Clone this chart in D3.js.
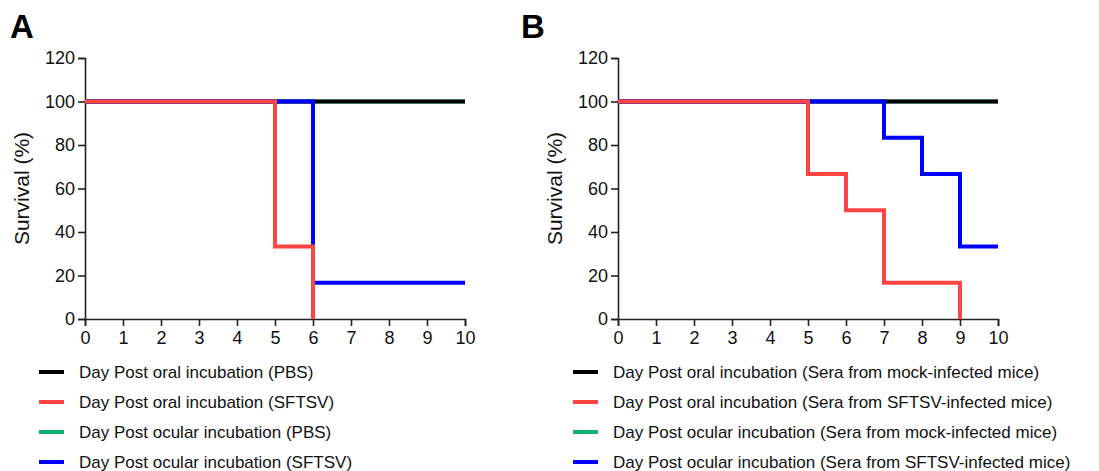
<!DOCTYPE html>
<html>
<head>
<meta charset="utf-8">
<script src="https://cdn.jsdelivr.net/npm/d3@7"></script>
<style>
  body { margin: 0; background: #fff; }
  svg { font-family: "Liberation Sans", Arial, sans-serif; }
</style>
</head>
<body>
<div id="chart"></div>
<script>
const width = 1099;
const height = 471;

// Panel A: days at which survival changes, and survival (%) from that day on
const daysA_oralPBS = [0, 10];
const survA_oralPBS = [100, 100];
const daysA_oralSFTSV = [0, 5, 6];
const survA_oralSFTSV = [100, 33.3, 0];
const daysA_ocularPBS = [0, 10];
const survA_ocularPBS = [100, 100];
const daysA_ocularSFTSV = [0, 6, 10];
const survA_ocularSFTSV = [100, 16.7, 16.7];

// Panel B
const daysB_oralMock = [0, 10];
const survB_oralMock = [100, 100];
const daysB_oralSFTSV = [0, 5, 6, 7, 9];
const survB_oralSFTSV = [100, 66.7, 50, 16.7, 0];
const daysB_ocularMock = [0, 10];
const survB_ocularMock = [100, 100];
const daysB_ocularSFTSV = [0, 7, 8, 9, 10];
const survB_ocularSFTSV = [100, 83.3, 66.7, 33.3, 33.3];

const xTicks = [0, 1, 2, 3, 4, 5, 6, 7, 8, 9, 10];
const yTicks = [0, 20, 40, 60, 80, 100, 120];

const legendA = [
  "Day Post oral incubation (PBS)",
  "Day Post oral incubation (SFTSV)",
  "Day Post ocular incubation (PBS)",
  "Day Post ocular incubation (SFTSV)"
];
const legendB = [
  "Day Post oral incubation (Sera from mock-infected mice)",
  "Day Post oral incubation (Sera from SFTSV-infected mice)",
  "Day Post ocular incubation (Sera from mock-infected mice)",
  "Day Post ocular incubation (Sera from SFTSV-infected mice)"
];
const colors = ["#000000", "#ff4444", "#12b074", "#0000ff"];

const svg = d3.select("#chart")
  .append("svg")
  .attr("width", width)
  .attr("height", height);

const zip = (xs, ys) => xs.map((d, i) => ({ day: d, surv: ys[i] }));

function drawPanel(opts) {
  const x = d3.scaleLinear().domain([0, 10]).range([opts.left, opts.left + 380]);
  const y = d3.scaleLinear().domain([0, 120]).range([319, 58]);

  const g = svg.append("g");

  g.append("text")
    .attr("x", opts.labelX)
    .attr("y", 38)
    .attr("font-size", 33)
    .attr("font-weight", "bold")
    .text(opts.label);

  const xAxis = g.append("g")
    .attr("transform", `translate(0,${y(0)})`)
    .call(d3.axisBottom(x).tickValues(xTicks).tickSize(7).tickPadding(5));
  const yAxis = g.append("g")
    .attr("transform", `translate(${x(0)},0)`)
    .call(d3.axisLeft(y).tickValues(yTicks).tickSize(7).tickPadding(3));

  [xAxis, yAxis].forEach(a => {
    a.selectAll("path, line").attr("stroke", "#222").attr("stroke-width", 1.6);
    a.selectAll("text")
      .attr("font-size", 18)
      .attr("fill", "#111")
      .attr("font-family", "Liberation Sans, Arial, sans-serif");
  });

  g.append("text")
    .attr("transform", `translate(${opts.left - 56},${y(60)}) rotate(-90)`)
    .attr("text-anchor", "middle")
    .attr("font-size", 21)
    .attr("fill", "#111")
    .text("Survival (%)");

  const line = d3.line()
    .x(d => x(d.day))
    .y(d => y(d.surv))
    .curve(d3.curveStepAfter);

  // draw order: green, black, blue, red (red on top)
  [2, 0, 3, 1].forEach(i => {
    g.append("path")
      .datum(opts.series[i])
      .attr("fill", "none")
      .attr("stroke", colors[i])
      .attr("stroke-width", 4)
      .attr("d", line);
  });

  const legend = g.append("g")
    .attr("transform", `translate(${opts.legendX},0)`);
  opts.legend.forEach((t, i) => {
    const ly = 372 + i * 30;
    legend.append("line")
      .attr("x1", 0).attr("x2", 25)
      .attr("y1", ly).attr("y2", ly)
      .attr("stroke", colors[i])
      .attr("stroke-width", 4);
    legend.append("text")
      .attr("x", 40)
      .attr("y", ly + 6)
      .attr("font-size", 17)
      .attr("fill", "#111")
      .text(t);
  });
}

drawPanel({
  label: "A",
  labelX: 10,
  left: 85,
  legendX: 39,
  legend: legendA,
  series: [
    zip(daysA_oralPBS, survA_oralPBS),
    zip(daysA_oralSFTSV, survA_oralSFTSV),
    zip(daysA_ocularPBS, survA_ocularPBS),
    zip(daysA_ocularSFTSV, survA_ocularSFTSV)
  ]
});

drawPanel({
  label: "B",
  labelX: 521,
  left: 618,
  legendX: 573,
  legend: legendB,
  series: [
    zip(daysB_oralMock, survB_oralMock),
    zip(daysB_oralSFTSV, survB_oralSFTSV),
    zip(daysB_ocularMock, survB_ocularMock),
    zip(daysB_ocularSFTSV, survB_ocularSFTSV)
  ]
});
</script>
</body>
</html>
